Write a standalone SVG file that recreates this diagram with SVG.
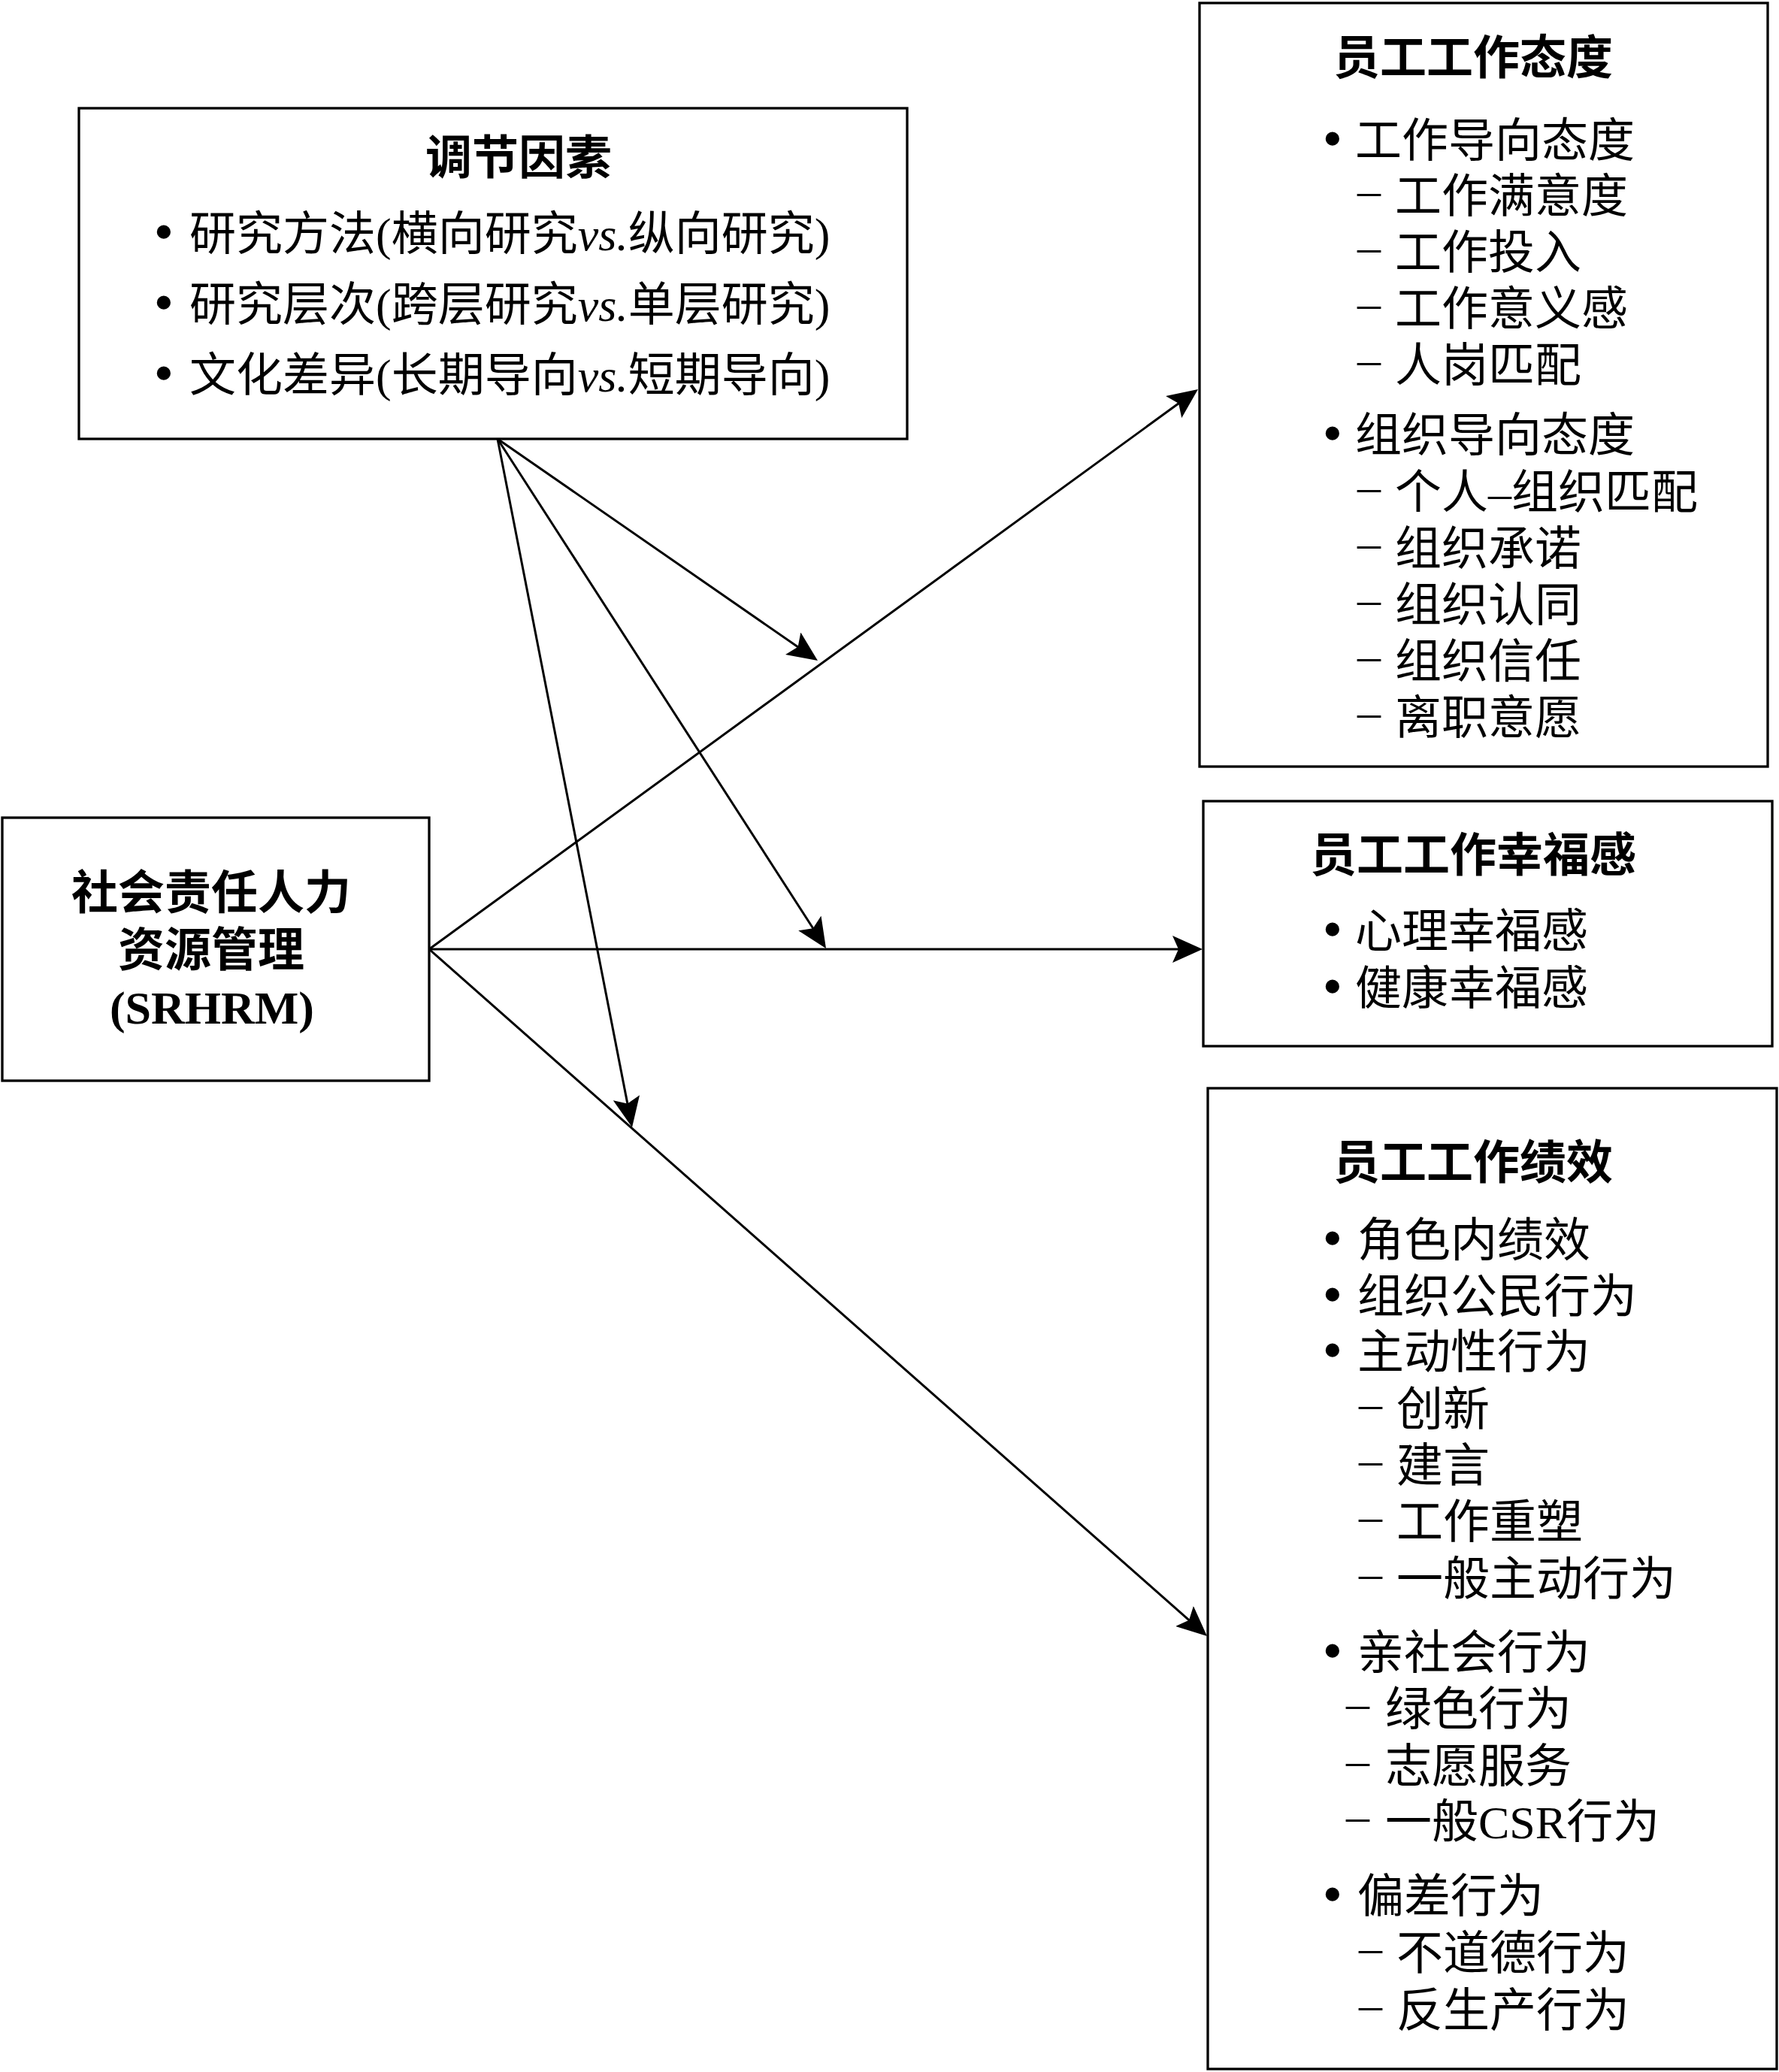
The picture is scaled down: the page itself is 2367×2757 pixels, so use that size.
<svg xmlns="http://www.w3.org/2000/svg" width="2367" height="2757" viewBox="0 0 2367 2757">
<defs>
<style>
.box{fill:#fff;stroke:#000;stroke-width:3.3}
.con{stroke:#000;stroke-width:3;fill:none;marker-end:url(#ah)}
.h{font-family:"Liberation Sans","Noto Sans CJK SC","Noto Sans CJK TC",sans-serif;font-weight:700;font-size:62px;fill:#000}
.hl{font-family:"Liberation Serif","Noto Sans CJK SC",serif;font-weight:700;font-size:62px;fill:#000}
.t{font-family:"Liberation Serif","Noto Sans CJK SC",serif;font-size:62px;fill:#000}
.b{stroke:#000;stroke-width:3.5}
</style>
<marker id="ah" markerUnits="userSpaceOnUse" markerWidth="42" markerHeight="36" viewBox="0 0 42 36" refX="32" refY="18" orient="auto">
<path d="M40,18 L0,0 L8,18 L0,36 Z" fill="#000"/>
</marker>
</defs>
<rect width="2367" height="2757" fill="#fff"/>

<g id="connectors">
<path class="con" d="M571,1263 L1587.5,522.7"/>
<path class="con" d="M571,1263 L1592,1263"/>
<path class="con" d="M571,1263 L1600,2171.7"/>
<path class="con" d="M662,584 L1081.4,874.5"/>
<path class="con" d="M662,584 L1094.7,1255.3"/>
<path class="con" d="M662,584 L839.5,1492.1"/>
</g>

<g id="moderators">
<rect class="box" x="105" y="144" width="1102" height="440"/>
<text class="h" x="690" y="232" text-anchor="middle">调节因素</text>
<text class="t"><tspan class="b" x="207" y="329">•</tspan><tspan x="252" y="333">研究方法(横向研究<tspan font-style="italic">vs.</tspan>纵向研究)</tspan></text>
<text class="t"><tspan class="b" x="207" y="423">•</tspan><tspan x="252" y="427">研究层次(跨层研究<tspan font-style="italic">vs.</tspan>单层研究)</tspan></text>
<text class="t"><tspan class="b" x="207" y="517">•</tspan><tspan x="252" y="521">文化差异(长期导向<tspan font-style="italic">vs.</tspan>短期导向)</tspan></text>
</g>

<g id="srhrm">
<rect class="box" x="3" y="1088" width="568" height="350"/>
<text class="h" x="281" y="1210" text-anchor="middle">社会责任人力</text>
<text class="h" x="281" y="1286" text-anchor="middle">资源管理</text>
<text class="hl" x="282" y="1362" text-anchor="middle">(SRHRM)</text>
</g>

<g id="attitude">
<rect class="box" x="1596" y="4" width="756" height="1016"/>
<text class="h" x="1960" y="99" text-anchor="middle">员工工作态度</text>
<text class="t"><tspan class="b" x="1762" y="205">•</tspan><tspan x="1803" y="209">工作导向态度</tspan></text>
<text class="t"><tspan x="1806" y="274">–</tspan><tspan x="1856" y="283">工作满意度</tspan></text>
<text class="t"><tspan x="1806" y="349">–</tspan><tspan x="1856" y="358">工作投入</tspan></text>
<text class="t"><tspan x="1806" y="424">–</tspan><tspan x="1856" y="433">工作意义感</tspan></text>
<text class="t"><tspan x="1806" y="499">–</tspan><tspan x="1856" y="508">人岗匹配</tspan></text>
<text class="t"><tspan class="b" x="1762" y="597">•</tspan><tspan x="1803" y="601">组织导向态度</tspan></text>
<text class="t"><tspan x="1806" y="668">–</tspan><tspan x="1856" y="677">个人–组织匹配</tspan></text>
<text class="t"><tspan x="1806" y="743">–</tspan><tspan x="1856" y="752">组织承诺</tspan></text>
<text class="t"><tspan x="1806" y="818">–</tspan><tspan x="1856" y="827">组织认同</tspan></text>
<text class="t"><tspan x="1806" y="893">–</tspan><tspan x="1856" y="902">组织信任</tspan></text>
<text class="t"><tspan x="1806" y="968">–</tspan><tspan x="1856" y="977">离职意愿</tspan></text>
</g>

<g id="wellbeing">
<rect class="box" x="1601" y="1066" width="757" height="326"/>
<text class="h" x="1960" y="1160" text-anchor="middle">员工工作幸福感</text>
<text class="t"><tspan class="b" x="1762" y="1257">•</tspan><tspan x="1803" y="1261">心理幸福感</tspan></text>
<text class="t"><tspan class="b" x="1762" y="1333">•</tspan><tspan x="1803" y="1337">健康幸福感</tspan></text>
</g>

<g id="performance">
<rect class="box" x="1607" y="1448" width="757" height="1305"/>
<text class="h" x="1960" y="1569" text-anchor="middle">员工工作绩效</text>
<text class="t"><tspan class="b" x="1762" y="1668">•</tspan><tspan x="1806" y="1672">角色内绩效</tspan></text>
<text class="t"><tspan class="b" x="1762" y="1743">•</tspan><tspan x="1806" y="1747">组织公民行为</tspan></text>
<text class="t"><tspan class="b" x="1762" y="1817">•</tspan><tspan x="1806" y="1821">主动性行为</tspan></text>
<text class="t"><tspan x="1808" y="1888">–</tspan><tspan x="1858" y="1897">创新</tspan></text>
<text class="t"><tspan x="1808" y="1963">–</tspan><tspan x="1858" y="1972">建言</tspan></text>
<text class="t"><tspan x="1808" y="2038">–</tspan><tspan x="1858" y="2047">工作重塑</tspan></text>
<text class="t"><tspan x="1808" y="2114">–</tspan><tspan x="1858" y="2123">一般主动行为</tspan></text>
<text class="t"><tspan class="b" x="1762" y="2217">•</tspan><tspan x="1806" y="2221">亲社会行为</tspan></text>
<text class="t"><tspan x="1791" y="2287">–</tspan><tspan x="1843" y="2296">绿色行为</tspan></text>
<text class="t"><tspan x="1791" y="2363">–</tspan><tspan x="1843" y="2372">志愿服务</tspan></text>
<text class="t"><tspan x="1791" y="2437">–</tspan><tspan x="1843" y="2446">一般CSR行为</tspan></text>
<text class="t"><tspan class="b" x="1762" y="2541">•</tspan><tspan x="1806" y="2545">偏差行为</tspan></text>
<text class="t"><tspan x="1808" y="2612">–</tspan><tspan x="1858" y="2621">不道德行为</tspan></text>
<text class="t"><tspan x="1808" y="2688">–</tspan><tspan x="1858" y="2697">反生产行为</tspan></text>
</g>
</svg>
